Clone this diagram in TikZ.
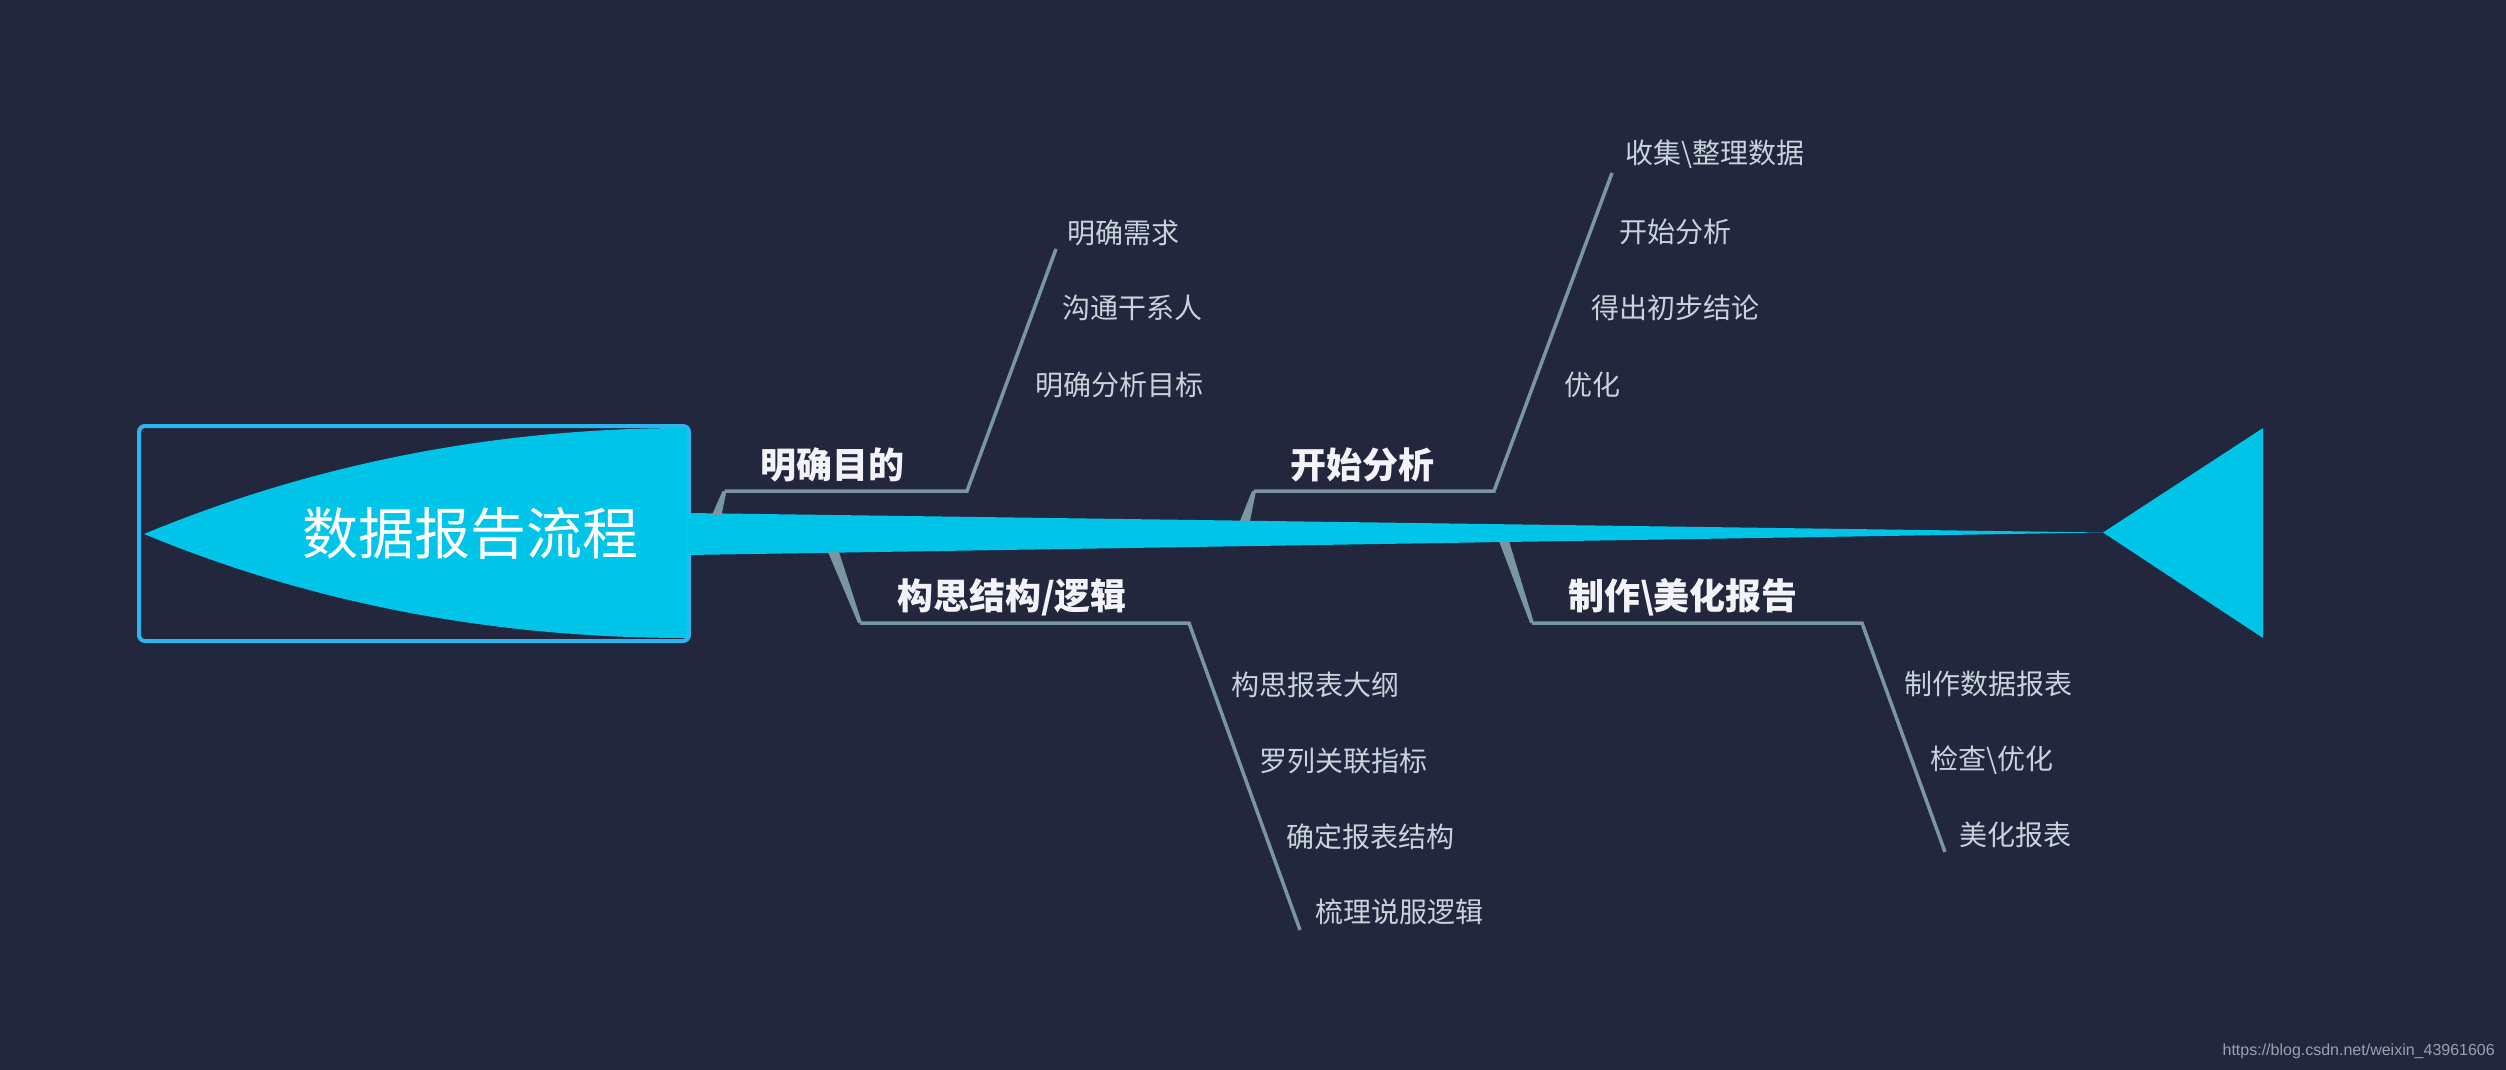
\documentclass[tikz,border=0pt]{standalone}
\usepackage{fontspec}
\setmainfont{Noto Sans CJK SC}
\newfontfamily\wmfont{Liberation Sans}
\definecolor{bg}{HTML}{22273D}
\definecolor{cyanfill}{HTML}{00C4E8}
\definecolor{boxblue}{HTML}{2DB5F2}
\definecolor{bone}{HTML}{7897A0}
\definecolor{subtxt}{HTML}{C8D3DB}
\definecolor{lbl}{HTML}{F2F2F7}
\definecolor{wm}{HTML}{9CA1B0}
\begin{document}
\begin{tikzpicture}[x=1pt,y=-1pt,
  bonel/.style={draw=bone, line width=3.5pt, line join=miter},
  foot/.style={fill=bone},
  lab/.style={font=\fontsize{36}{40}\selectfont\bfseries, text=lbl, inner sep=0pt},
  sub/.style={font=\fontsize{28}{32}\selectfont, text=subtxt, inner sep=0pt, anchor=west},
]
\fill[bg] (0,0) rectangle (2506,1070);
\useasboundingbox (0,0) rectangle (2506,1070);

% head frame
\node[draw=boxblue, line width=4pt, rounded corners=6pt, minimum width=550pt,
      minimum height=215pt, inner sep=0pt] (headbox) at (414,533.5) {};
% head shape
\fill[cyanfill] (144,534) .. controls (314.7,463.3) and (495.7,428) .. (687,428)
   -- (687,638) .. controls (495.7,638) and (314.7,604.7) .. (144,534) -- cycle;
% spine
\coordinate (spl) at (688,534);
\coordinate (tip) at (2103,532.5);
\fill[cyanfill] (688,513) -- (tip) -- (688,555) -- cycle;
% tail
\fill[cyanfill] (tip) -- (2263,428) -- (2263,638) -- cycle;

\node[font=\fontsize{56}{60}\selectfont, text=white, inner sep=0pt] (title) at (470,533) {数据报告流程};

% branch 1 (upper)
\coordinate (b1c) at (724.5,491);
\coordinate (b1e) at (967,491);
\coordinate (b1t) at (1056,249);
\fill[bone] (712,515) -- (721.5,515) -- (726.5,491) -- (722.5,491) -- cycle;
\draw[bonel] (b1c) -- (b1e) -- (b1t);

% branch 2 (upper)
\coordinate (b2c) at (1254,491);
\coordinate (b2e) at (1494,491);
\coordinate (b2t) at (1612,173);
\fill[bone] (1240,521) -- (1250,521) -- (1256,491) -- (1252,491) -- cycle;
\draw[bonel] (b2c) -- (b2e) -- (b2t);

% branch 3 (lower)
\coordinate (b3c) at (860,623);
\coordinate (b3e) at (1189,623);
\coordinate (b3t) at (1300,930);
\fill[bone] (828,552) -- (839,552) -- (862,623) -- (858,623) -- cycle;
\draw[bonel] (b3c) -- (b3e) -- (b3t);

% branch 4 (lower)
\coordinate (b4c) at (1532,623);
\coordinate (b4e) at (1862,623);
\coordinate (b4t) at (1945,852);
\fill[bone] (1499,541) -- (1509,541) -- (1534,623) -- (1530,623) -- cycle;
\draw[bonel] (b4c) -- (b4e) -- (b4t);

% branch labels
\node[lab] (l1) at (832,465) {明确目的};
\node[lab] (l2) at (1362,465) {开始分析};
\node[lab] (l3) at (1012,597) {构思结构/逻辑};
\node[lab] (l4) at (1683,597) {制作\textbackslash 美化报告};

% sub items
\node[sub] (s11) at (1067,233) {明确需求};
\node[sub] (s12) at (1062,308) {沟通干系人};
\node[sub] (s13) at (1035,385) {明确分析目标};

\node[sub] (s21) at (1625,154) {收集\textbackslash 整理数据};
\node[sub] (s22) at (1619,232) {开始分析};
\node[sub] (s23) at (1591,308) {得出初步结论};
\node[sub] (s24) at (1564,385) {优化};

\node[sub] (s31) at (1231,685) {构思报表大纲};
\node[sub] (s32) at (1259,761) {罗列关联指标};
\node[sub] (s33) at (1286,837) {确定报表结构};
\node[sub] (s34) at (1315,912) {梳理说服逻辑};

\node[sub] (s41) at (1904,684) {制作数据报表};
\node[sub] (s42) at (1930,760) {检查\textbackslash 优化};
\node[sub] (s43) at (1959,835) {美化报表};

\node[font=\wmfont\fontsize{16}{18}\selectfont, text=wm, inner sep=0pt, anchor=east] (wmark) at (2495,1051) {https://blog.csdn.net/weixin\_43961606};
\end{tikzpicture}
\end{document}
